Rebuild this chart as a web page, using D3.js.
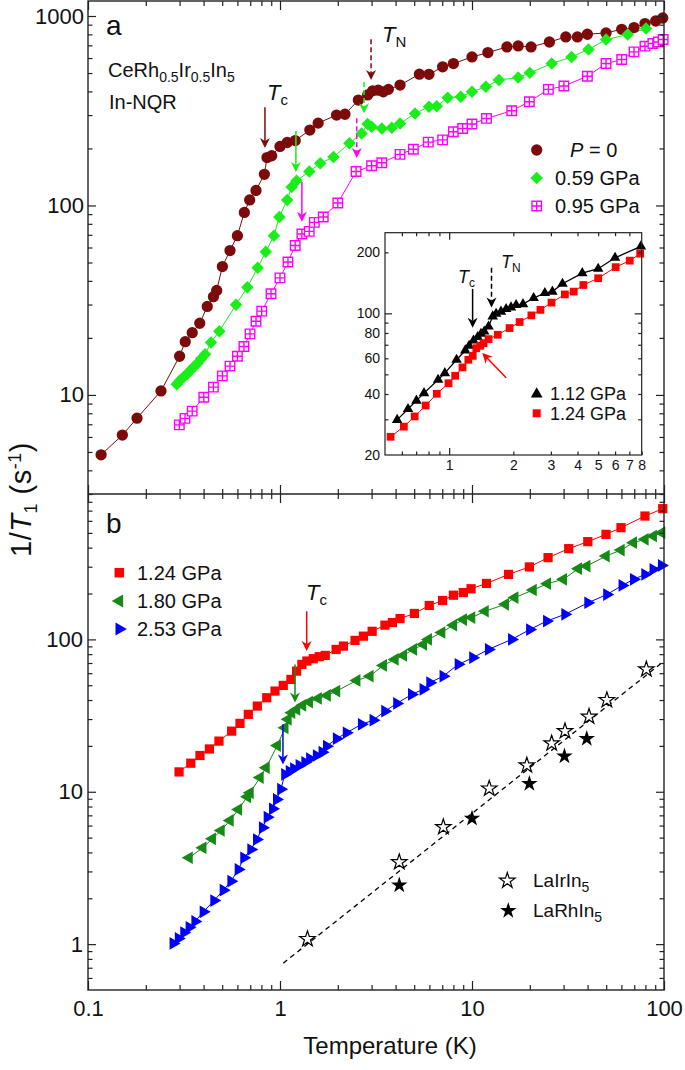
<!DOCTYPE html>
<html><head><meta charset="utf-8">
<script src="https://cdn.jsdelivr.net/npm/d3@7"></script>
<style>body{margin:0;background:#fff}svg{display:block}</style>
</head><body>
<svg id="c" width="685" height="1070"></svg>
<script>
// ---------------- data ----------------
const xMajor = [0.1, 1, 10, 100];
const xMinor = [0.2,0.3,0.4,0.5,0.6,0.7,0.8,0.9,2,3,4,5,6,7,8,9,20,30,40,50,60,70,80,90];
const yaMajor = [10, 100, 1000];
const yaMinor = [3,4,5,6,7,8,9,20,30,40,50,60,70,80,90,200,300,400,500,600,700,800,900];
const ybMajor = [1, 10, 100];
const ybMinor = [0.6,0.7,0.8,0.9,2,3,4,5,6,7,8,9,20,30,40,50,60,70,80,90,200,300,400,500,600,700,800];
const ixMajor = [1];
const ixMinor = [0.6,0.7,0.8,0.9,2,3,4,5,6,7];
const ixLabels = [1,2,3,4,5,6,7,8];
const iyMajor = [100];
const iyMinor = [30,40,50,60,70,80,90,200];
const iyLabels = [20,40,60,80,100,200];

// panel a : [T (K), 1/T1 (s^-1)]
const p0 = [[0.117,4.83],[0.151,6.14],[0.180,7.54],[0.240,10.5],[0.300,16.0],[0.321,19.1],[0.349,21.3],[0.382,23.9],[0.418,29.3],[0.450,33.0],[0.468,35.6],[0.501,47.6],[0.549,57.8],[0.600,69.3],[0.652,91.9],[0.695,107],[0.750,120],[0.829,146],[0.856,179],[0.905,183],[1.00,205],[1.09,215],[1.20,220],[1.43,250],[1.58,272],[1.97,300],[2.18,303],[2.56,360],[2.86,383],[3.04,403],[3.25,406],[3.45,398],[3.67,410],[4.22,432],[5.32,493],[5.97,492],[7.03,539],[8.0,561],[10.0,608],[12.1,641],[15.2,687],[17.4,695],[20.3,687],[25.3,729],[30.8,775],[35.4,775],[39.9,801],[49.9,814],[60.2,851],[69.8,869],[79.6,912],[90.5,941],[98.5,976]];
const p059 = [[0.290,11.4],[0.301,11.9],[0.314,12.4],[0.328,12.9],[0.342,13.5],[0.356,14.1],[0.372,14.7],[0.388,15.5],[0.407,16.4],[0.437,18.9],[0.483,21.7],[0.590,29.9],[0.676,37.0],[0.765,46.9],[0.843,56.9],[0.930,69.3],[0.992,86.9],[1.09,107],[1.15,125],[1.22,135],[1.42,151],[1.62,167],[1.90,180],[2.30,213],[2.66,240],[2.86,269],[3.00,260],[3.39,255],[3.82,257],[4.22,271],[5.05,306],[5.97,332],[6.55,334],[7.47,370],[8.74,375],[10.0,398],[11.8,423],[13.8,459],[17.4,474],[20.0,501],[26.0,561],[33.0,608],[40.4,666],[49.9,751],[64.7,798],[80.6,859]];
const p095 = [[0.299,6.95],[0.320,7.52],[0.349,8.21],[0.401,9.73],[0.450,11.0],[0.501,12.6],[0.549,14.2],[0.600,16.0],[0.649,18.0],[0.698,21.0],[0.750,24.5],[0.803,27.7],[0.898,34.2],[1.00,41.5],[1.10,50.3],[1.20,61.5],[1.30,70.7],[1.42,73.0],[1.51,81.4],[1.68,86.9],[2.00,103],[2.49,151],[3.00,162],[3.39,168],[4.22,186],[4.95,198],[5.92,216],[7.03,222],[8.0,245],[8.94,255],[10.0,269],[11.9,288],[16.1,316],[19.9,353],[25.0,410],[30.1,427],[39.9,481],[49.9,561],[60.2,589],[69.8,647],[79.6,693],[87.5,716],[93.5,729],[99,751]];

// inset
const i112 = [[0.570,29.8],[0.641,33.7],[0.702,37.1],[0.762,40.4],[0.887,47.0],[0.954,50.7],[1.083,59.0],[1.19,65.6],[1.24,69.2],[1.30,73.4],[1.36,76.4],[1.41,79.3],[1.46,81.4],[1.53,86.1],[1.60,96.6],[1.66,99.5],[1.75,102],[1.85,105],[1.95,107],[2.06,110],[2.22,111],[2.49,119],[2.81,126],[3.05,128],[3.40,140],[4.21,158],[5.0,166],[6.0,188],[7.93,214]];
const i124 = [[0.531,24.6],[0.613,27.6],[0.689,31.0],[0.776,35.1],[0.875,40.1],[0.993,45.2],[1.067,49.2],[1.155,54.1],[1.23,59.0],[1.29,61.7],[1.34,67.3],[1.40,69.2],[1.45,71.3],[1.53,74.6],[1.69,78.4],[1.92,84.6],[2.14,90.6],[2.43,97.7],[2.68,104],[3.02,113],[3.49,124],[3.84,128],[4.26,138],[5.0,149],[6.04,169],[7.03,182],[7.87,197]];

// panel b
const p124 = [[0.298,13.5],[0.343,15.4],[0.383,17.3],[0.429,19.1],[0.481,21.5],[0.560,25.0],[0.619,28.1],[0.684,32.2],[0.762,36.5],[0.853,41.4],[0.942,45.8],[1.04,49.9],[1.14,54.6],[1.22,61.9],[1.30,68.5],[1.38,72.1],[1.49,74.7],[1.60,77.0],[1.72,78.5],[1.96,85.9],[2.14,90.4],[2.46,98.5],[2.72,105],[3.02,113],[3.52,124],[3.85,129],[4.22,137],[5.01,148],[5.99,167],[7.03,180],[8.0,195],[9.01,203],[9.89,215],[11.9,233],[15.5,267],[19.9,299],[24.9,344],[31.9,394],[40.1,438],[49.9,489],[59.7,541],[79.6,645],[98.5,721]];
const p180 = [[0.336,3.69],[0.396,4.29],[0.444,4.91],[0.493,5.57],[0.549,6.48],[0.607,7.65],[0.676,9.27],[0.698,9.84],[0.787,12.4],[0.846,14.4],[0.968,20.1],[1.06,26.3],[1.10,29.9],[1.15,33.0],[1.22,34.7],[1.31,36.9],[1.42,38.8],[1.58,41.0],[1.76,42.9],[1.97,45.8],[2.51,53.8],[2.94,57.4],[3.45,67.5],[3.97,73.9],[4.39,78.5],[4.95,86.0],[5.58,92.7],[5.92,100],[6.95,111],[8.0,124],[9.01,135],[9.95,139],[11.7,153],[14.9,170],[16.7,188],[20.8,211],[24.7,232],[29.9,248],[35.8,291],[39.6,303],[49.9,352],[59.7,386],[69.2,431],[79.6,454],[87.9,477],[97.2,502]];
const p253 = [[0.278,1.01],[0.296,1.09],[0.316,1.19],[0.337,1.29],[0.361,1.41],[0.399,1.63],[0.453,1.93],[0.507,2.26],[0.556,2.59],[0.607,3.09],[0.649,3.69],[0.706,4.18],[0.756,4.86],[0.812,5.81],[0.859,6.81],[0.916,7.73],[0.961,8.90],[1.01,10.4],[1.06,13.0],[1.12,13.6],[1.18,14.2],[1.26,14.9],[1.35,15.6],[1.43,16.5],[1.55,17.3],[1.66,18.2],[1.75,19.9],[1.97,22.3],[2.22,24.4],[2.66,27.7],[3.06,29.5],[3.52,33.8],[4.06,38.0],[4.85,43.5],[5.57,47.0],[6.04,52.0],[7.08,57.4],[8.49,68.6],[10.1,75.8],[12.2,86.0],[16.1,100],[20.0,116],[24.5,132],[30.5,146],[40.2,174],[50.4,197],[60.6,226],[69.5,248],[79.6,267],[87.9,288],[97.2,306]];
const laIr = [[1.39,1.08],[4.18,3.45],[7.09,5.86],[12.3,10.5],[19.3,14.9],[26.0,20.8],[30.5,25.0],[40.7,31.1],[50.4,40.0],[80.9,63.6]];
const laRh = [[4.18,2.44],[10.0,6.68],[19.9,11.3],[30.3,17.1],[39.6,22.3]];
const korringa = [[1.04,0.75],[100,72]];

// transition arrows: [T, from, to]
const arrowsA = [[0.835,330,201,"#7d0a0a",false],[1.21,247,150,"#1aee1a",false],[1.30,133,82,"#ff00ff",false],
                 [2.98,754,459,"#7d0a0a",true],[2.74,448,307,"#1aee1a",true],[2.51,289,178,"#ff00ff",true]];
const arrowsB = [[1.377,153,83.8,"#ff0000"],[1.197,68.5,38.6,"#168a16"],[1.036,27.7,15.1,"#0000ff"]];
const arrowsI = [[1.288,132,84.9,false],[1.58,168,107,true]];

// ---------------- drawing ----------------
const FONT = "'Liberation Sans', Arial, Helvetica, sans-serif";
const C = {p0:"#7d0a0a", p059:"#1aee1a", p095:"#ff00ff", r:"#ff0000", g:"#168a16", b:"#0000ff"};
const svg = d3.select("#c").attr("font-family", FONT);
const X0=88, X1=664, AY0=1, AY1=494, BY0=494, BY1=990;
const x = d3.scaleLog().domain([0.1,100]).range([X0,X1]);
const ya = d3.scaleLog().domain([3,1200]).range([AY1,AY0]);
const yb = d3.scaleLog().domain([0.5,900]).range([BY1,BY0]);
const ix = d3.scaleLog().domain([0.5,8]).range([385,641.7]);
const iy = d3.scaleLog().domain([20,250]).range([455,232.7]);

function axis(g, orient, scale, pos, vals, len, labels, fs, pad){
  const gen = {bottom:d3.axisBottom, top:d3.axisTop, left:d3.axisLeft, right:d3.axisRight}[orient](scale)
    .tickValues(vals).tickSize(-len).tickPadding(pad||4).tickFormat(labels ? (d=>String(d)) : (()=>""));
  const tr = (orient==="bottom"||orient==="top") ? `translate(0,${pos})` : `translate(${pos},0)`;
  const a = g.append("g").attr("transform",tr).call(gen);
  a.select(".domain").remove();
  a.selectAll("line").attr("stroke","#222").attr("stroke-width",1.2);
  a.selectAll("text").attr("font-size",fs||22).attr("fill","#111").attr("font-family",FONT);
  return a;
}
function line(g, data, xs, ys, color, w, dash){
  g.append("path").datum(data).attr("fill","none").attr("stroke",color).attr("stroke-width",w||1)
   .attr("stroke-dasharray",dash||null)
   .attr("d", d3.line().x(d=>xs(d[0])).y(d=>ys(d[1])));
}
const crossSquare = {draw(ctx,size){const s=Math.sqrt(size)/2;ctx.moveTo(-s,-s);ctx.lineTo(s,-s);ctx.lineTo(s,s);ctx.lineTo(-s,s);ctx.closePath();ctx.moveTo(0,-s);ctx.lineTo(0,s);ctx.moveTo(-s,0);ctx.lineTo(s,0);}};
function marks(g, data, xs, ys, type, size, fill, stroke, rot, sw){
  g.selectAll(null).data(data).join("path")
   .attr("transform", d=>`translate(${xs(d[0])},${ys(d[1])}) rotate(${rot||0})`)
   .attr("d", d3.symbol(type, size)).attr("fill",fill).attr("stroke",stroke||"none").attr("stroke-width",sw||1);
}
function marker(g, px, py, type, size, fill, stroke, rot, sw){
  g.append("path").attr("transform",`translate(${px},${py}) rotate(${rot||0})`)
   .attr("d", d3.symbol(type,size)).attr("fill",fill).attr("stroke",stroke||"none").attr("stroke-width",sw||1);
}
function arrow(g, x1, y1, x2, y2, color, dashed){
  const ang = Math.atan2(y2-y1, x2-x1), L=10, W=5, N=7;
  const ca=Math.cos(ang), sa=Math.sin(ang);
  const bx = x2 - ca*N, by = y2 - sa*N;
  g.append("line").attr("x1",x1).attr("y1",y1).attr("x2",bx).attr("y2",by)
   .attr("stroke",color).attr("stroke-width",1.5).attr("stroke-dasharray",dashed?"5,3":null);
  const p = [[x2,y2],[x2-ca*L - sa*W, y2-sa*L + ca*W],[bx,by],[x2-ca*L + sa*W, y2-sa*L - ca*W]];
  g.append("path").attr("d","M"+p.map(q=>q.join(",")).join("L")+"Z").attr("fill",color);
}
function label(g, px, py, parts, fs, anchor){
  const t = g.append("text").attr("x",px).attr("y",py).attr("font-size",fs).attr("fill","#111").attr("text-anchor",anchor||"start");
  parts.forEach(p=>{
    const s = t.append("tspan").text(p.t);
    if(p.i) s.attr("font-style","italic");
    if(p.fs) s.attr("font-size",p.fs);
    if(p.dy) s.attr("dy",p.dy);
  });
  return t;
}

// ---------- panel a ----------
const ga = svg.append("g");
line(ga, p0, x, ya, C.p0);
line(ga, p059, x, ya, C.p059);
line(ga, p095, x, ya, C.p095);
marks(ga, p0, x, ya, d3.symbolCircle, 100, C.p0);
marks(ga, p059, x, ya, d3.symbolSquare, 78, C.p059, null, 45);
marks(ga, p095, x, ya, crossSquare, 90, "#fff", C.p095, 0, 1.4);
arrowsA.forEach(a=>arrow(ga, x(a[0]), ya(a[1]), x(a[0]), ya(a[2]), a[3], a[4]));

// inset
const gi = svg.append("g");
gi.append("rect").attr("x",385).attr("y",232.7).attr("width",256.7).attr("height",222.3).attr("fill","#fff");
line(gi, i112, ix, iy, "#000", 1.3);
line(gi, i124, ix, iy, C.r, 1);
marks(gi, i112, ix, iy, d3.symbolTriangle, 48, "#000");
marks(gi, i124, ix, iy, d3.symbolSquare, 60, C.r);
arrowsI.forEach(a=>arrow(gi, ix(a[0]), iy(a[1]), ix(a[0]), iy(a[2]), "#000", a[3]));
arrow(gi, ix(1.85), iy(48.1), ix(1.43), iy(63.7), C.r, false);
axis(gi,"bottom",ix,455,ixMajor,7,false);
axis(gi,"bottom",ix,455,ixMinor.concat([8]),3.5,false);
axis(gi,"bottom",ix,455,ixLabels,0,true,14,5);
axis(gi,"top",ix,232.7,ixMajor,7,false);
axis(gi,"top",ix,232.7,ixMinor,3.5,false);
axis(gi,"left",iy,385,iyMajor,7,false);
axis(gi,"left",iy,385,iyMinor,3.5,false);
axis(gi,"left",iy,385,iyLabels,0,true,14,5);
axis(gi,"right",iy,641.7,iyMajor,7,false);
axis(gi,"right",iy,641.7,iyMinor,3.5,false);
gi.append("rect").attr("x",385).attr("y",232.7).attr("width",256.7).attr("height",222.3).attr("fill","none").attr("stroke","#222").attr("stroke-width",1.2);
label(gi, 458, 283, [{t:"T",i:true},{t:"c",fs:12,dy:4}], 18);
label(gi, 501, 268, [{t:"T",i:true},{t:"N",fs:12,dy:4}], 18);
marker(gi, 536.7, 394, d3.symbolTriangle, 60, "#000");
label(gi, 550, 400, [{t:"1.12 GPa"}], 18);
marker(gi, 536.7, 413.3, d3.symbolSquare, 64, C.r);
label(gi, 550, 420, [{t:"1.24 GPa"}], 18);

// panel a axes & texts
axis(ga,"left",ya,X0,yaMajor,8,true,22,4);
axis(ga,"left",ya,X0,yaMinor,4.5,false);
axis(ga,"right",ya,X1,yaMajor,8,false);
axis(ga,"right",ya,X1,yaMinor,4.5,false);
axis(ga,"top",x,AY0,xMajor,9,false);
axis(ga,"top",x,AY0,xMinor,5,false);
axis(ga,"bottom",x,AY1,xMajor,9,false);
axis(ga,"bottom",x,AY1,xMinor,5,false);
label(ga, 106, 35, [{t:"a"}], 28);
label(ga, 108, 77, [{t:"CeRh"},{t:"0.5",fs:14,dy:5},{t:"Ir",dy:-5},{t:"0.5",fs:14,dy:5},{t:"In",dy:-5},{t:"5",fs:14,dy:5}], 20);
label(ga, 109, 109, [{t:"In-NQR"}], 20);
label(ga, 267, 100, [{t:"T",i:true},{t:"c",fs:15,dy:5}], 22);
label(ga, 382, 42, [{t:"T",i:true},{t:"N",fs:15,dy:5}], 22);
marker(ga, 536.7, 150, d3.symbolCircle, 100, C.p0);
label(ga, 570, 157, [{t:"P",i:true},{t:" = 0"}], 20);
marker(ga, 536.7, 178, d3.symbolSquare, 78, C.p059, null, 45);
label(ga, 555, 185, [{t:"0.59 GPa"}], 20);
marker(ga, 536.7, 206, crossSquare, 90, "#fff", C.p095, 0, 1.4);
label(ga, 555, 213, [{t:"0.95 GPa"}], 20);

// ---------- panel b ----------
const gb = svg.append("g");
line(gb, korringa, x, yb, "#000", 1.3, "5,4");
line(gb, p124, x, yb, C.r);
line(gb, p180, x, yb, C.g);
line(gb, p253, x, yb, C.b);
marks(gb, p124, x, yb, d3.symbolSquare, 85, C.r);
marks(gb, p180, x, yb, d3.symbolTriangle, 70, C.g, null, -90);
marks(gb, p253, x, yb, d3.symbolTriangle, 70, C.b, null, 90);
marks(gb, laIr, x, yb, d3.symbolStar, 75, "#fff", "#000", 0, 1.2);
marks(gb, laRh, x, yb, d3.symbolStar, 85, "#000");
arrowsB.forEach(a=>arrow(gb, x(a[0]), yb(a[1]), x(a[0]), yb(a[2]), a[3], false));
axis(gb,"left",yb,X0,ybMajor,8,true,22,5);
axis(gb,"left",yb,X0,ybMinor,4.5,false);
axis(gb,"right",yb,X1,ybMajor,8,false);
axis(gb,"right",yb,X1,ybMinor,4.5,false);
axis(gb,"top",x,BY0,xMajor,9,false);
axis(gb,"top",x,BY0,xMinor,5,false);
axis(gb,"bottom",x,BY1,xMajor,9,true,22,10);
axis(gb,"bottom",x,BY1,xMinor,5,false);
label(gb, 106, 533, [{t:"b"}], 28);
label(gb, 306, 600, [{t:"T",i:true},{t:"c",fs:15,dy:5}], 22);
marker(gb, 119.3, 572.7, d3.symbolSquare, 90, C.r);
label(gb, 137, 580, [{t:"1.24 GPa"}], 20);
marker(gb, 119.3, 601, d3.symbolTriangle, 75, C.g, null, -90);
label(gb, 137, 608, [{t:"1.80 GPa"}], 20);
marker(gb, 119.3, 629, d3.symbolTriangle, 75, C.b, null, 90);
label(gb, 137, 636, [{t:"2.53 GPa"}], 20);
marker(gb, 507.3, 880.7, d3.symbolStar, 75, "#fff", "#000", 0, 1.2);
label(gb, 533, 887, [{t:"LaIrIn"},{t:"5",fs:14,dy:5}], 19);
marker(gb, 508.3, 910.7, d3.symbolStar, 85, "#000");
label(gb, 533, 917, [{t:"LaRhIn"},{t:"5",fs:14,dy:5}], 19);

// frames
svg.append("rect").attr("x",X0).attr("y",AY0).attr("width",X1-X0).attr("height",BY1-AY0).attr("fill","none").attr("stroke","#222").attr("stroke-width",1.4);
svg.append("line").attr("x1",X0).attr("x2",X1).attr("y1",AY1).attr("y2",AY1).attr("stroke","#222").attr("stroke-width",1.4);

// axis titles
label(svg, 390, 1054, [{t:"Temperature (K)"}], 24, "middle");
const yl = label(svg, 0, 0, [{t:"1/"},{t:"T",i:true},{t:"1",fs:18,dy:6},{t:" (s",dy:-6},{t:"-1",fs:18,dy:-10},{t:")",dy:10}], 29, "start");
yl.attr("transform","translate(31,557) rotate(-90)").attr("letter-spacing",0.5);
</script>
</body></html>
